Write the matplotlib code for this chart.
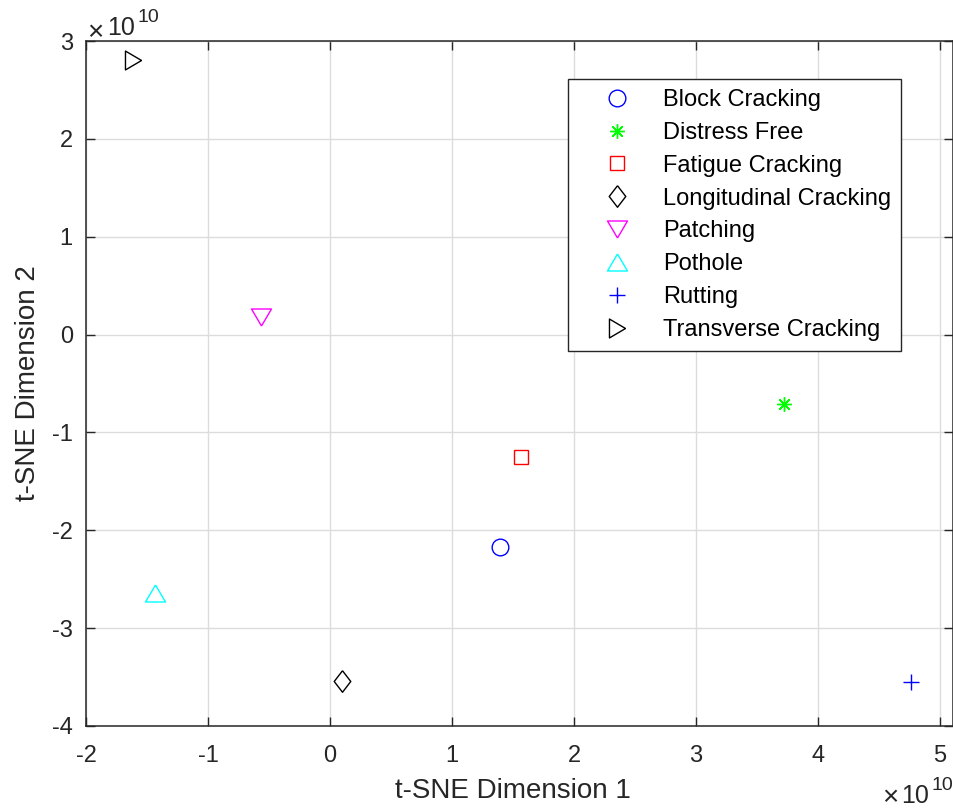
import matplotlib
matplotlib.use('Agg')
import matplotlib.pyplot as plt
from matplotlib.ticker import FuncFormatter

plt.rcParams['font.family'] = ['Liberation Sans', 'DejaVu Sans']

# t-SNE embedding of the distress classes (raw units)
labels = ['Block Cracking', 'Distress Free', 'Fatigue Cracking', 'Longitudinal Cracking',
          'Patching', 'Pothole', 'Rutting', 'Transverse Cracking']
x_vals = [1.396e10, 3.724e10, 1.563e10, 0.096e10, -0.568e10, -1.437e10, 4.765e10, -1.615e10]
y_vals = [-2.169e10, -0.714e10, -1.252e10, -3.540e10, 0.181e10, -2.638e10, -3.547e10, 2.808e10]

x_ticks = [-2e10, -1e10, 0, 1e10, 2e10, 3e10, 4e10, 5e10]
y_ticks = [-4e10, -3e10, -2e10, -1e10, 0, 1e10, 2e10, 3e10]

# MATLAB-like marker styles
tri_up = [(0, 0.85), (-1, -0.85), (1, -0.85), (0, 0.85)]
tri_down = [(0, -0.85), (-1, 0.85), (1, 0.85), (0, -0.85)]
tri_right = [(0.85, 0), (-0.85, 1), (-0.85, -1), (0.85, 0)]
diamond = [(0, 1), (0.77, 0), (0, -1), (-0.77, 0), (0, 1)]
styles = [
    dict(marker='o', color='#0000ff', ms=12),
    dict(marker=(8, 2, 0), color='#00ff00', ms=10.5),
    dict(marker='s', color='#ff0000', ms=9.6),
    dict(marker=diamond, color='#000000', ms=15.5),
    dict(marker=tri_down, color='#ff00ff', ms=14.4),
    dict(marker=tri_up, color='#00ffff', ms=14.4),
    dict(marker='+', color='#0000ff', ms=12),
    dict(marker=tri_right, color='#000000', ms=13.6),
]

W, H = 954, 811
dark = '#262626'
fig = plt.figure(figsize=(W / 100, H / 100), dpi=100)
ax = fig.add_axes([86 / W, 1 - 726 / H, 867 / W, 685 / H])

for lab, x, y, st in zip(labels, x_vals, y_vals, styles):
    ax.plot([x], [y], linestyle='none', marker=st['marker'], markersize=st['ms'],
            markerfacecolor='none', markeredgecolor=st['color'], markeredgewidth=1.0,
            label=lab)

ax.set_xlim(-2e10, 5.107e10)
ax.set_ylim(-4e10, 3e10)
ax.set_xticks(x_ticks)
ax.set_yticks(y_ticks)
fmt = FuncFormatter(lambda v, p: '%g' % (v / 1e10))
ax.xaxis.set_major_formatter(fmt)
ax.yaxis.set_major_formatter(fmt)

ax.grid(True, color='#dcdcdc', linewidth=1.0)
ax.set_axisbelow(True)
ax.tick_params(direction='in', length=6.5, width=1.0, colors=dark, labelsize=17,
               top=True, right=True)
ax.tick_params(axis='x', pad=13.5)
ax.tick_params(axis='y', pad=9.5)
for s in ax.spines.values():
    s.set_color(dark)
    s.set_linewidth(1.1)

ax.set_xlabel('t-SNE Dimension 1', fontsize=20, color=dark)
ax.xaxis.set_label_coords((513 - 86) / 867, -(798 - 726) / 685)
ax.xaxis.label.set_va('baseline')
ax.set_ylabel('t-SNE Dimension 2', fontsize=20, color=dark, labelpad=8)

# exponent labels, MATLAB style: (x of the times sign, baseline, times baseline, x of "10")
for (x0, base, tbase, ten_x) in [(87, 35, 40, 107), (882, 803, 805, 901)]:
    fig.text(x0 / W, 1 - tbase / H, '\u00d7', fontsize=20, color=dark,
             ha='left', va='baseline')
    fig.text(ten_x / W, 1 - base / H, '10', fontsize=18, color=dark,
             ha='left', va='baseline')
    fig.text((ten_x + 31) / W, 1 - (base - 13) / H, '10', fontsize=14, color=dark,
             ha='left', va='baseline')

leg = ax.legend(loc='upper left', bbox_to_anchor=(568 / W, 1 - 79 / H),
                bbox_transform=fig.transFigure, fontsize=17, frameon=True,
                fancybox=False, framealpha=1, edgecolor=dark, labelspacing=0.46,
                handlelength=3.3, handletextpad=0.3, borderpad=0.42, borderaxespad=0)
leg.get_frame().set_linewidth(1.0)

fig.savefig('out.png', dpi=100)
